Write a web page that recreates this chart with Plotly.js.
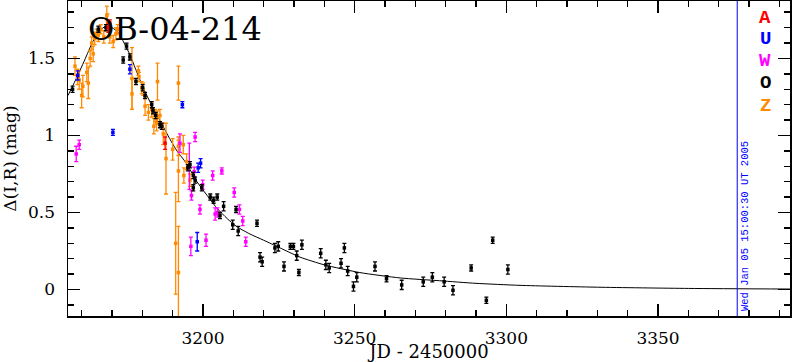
<!DOCTYPE html>
<html>
<head>
<meta charset="utf-8">
<script src="https://cdn.plot.ly/plotly-3.0.1.min.js"></script>
<style>html,body{margin:0;padding:0;background:#fff;}#chart{width:792px;height:362px;}</style>
</head>
<body>
<div id="chart"></div>
<script>
// ---- data (JD - 2450000, Δ mag, error) ----
const aJD  = [3168.8, 3169.3, 3187.5];
const aMag = [1.70, 1.73, 0.95];
const aErr = [0.03, 0.02, 0.04];

const uJD  = [3158.7, 3170.3, 3175.9, 3193.2, 3198.4, 3199.2, 3198.1];
const uMag = [1.39, 1.02, 1.43, 1.20, 0.79, 0.82, 0.31];
const uErr = [0.03, 0.02, 0.03, 0.02, 0.03, 0.03, 0.06];

const wJD  = [3158.2, 3159.2, 3192.4, 3197.4, 3195.5, 3197.1, 3196.2, 3199.9, 3199.0, 3203.2, 3206.2, 3204.0, 3204.8, 3210.3, 3212.0, 3213.1, 3214.1, 3196.0, 3201.0];
const wMag = [0.88, 0.94, 0.95, 0.99, 0.80, 0.765, 0.61, 0.68, 0.52, 0.74, 0.77, 0.49, 0.50, 0.63, 0.52, 0.445, 0.31, 0.28, 0.32];
const wErr = [0.05, 0.03, 0.06, 0.03, 0.15, 0.03, 0.03, 0.03, 0.03, 0.03, 0.02, 0.04, 0.03, 0.03, 0.03, 0.03, 0.03, 0.06, 0.04];

const oJD  = [3157.0, 3165.5, 3168.0, 3173.7, 3174.8, 3175.9, 3177.9, 3180.1, 3180.9, 3183.1, 3183.5, 3184.4, 3185.8, 3186.4,
              3195.0, 3195.7, 3196.8, 3197.4, 3196.8, 3199.6, 3202.4, 3203.5, 3204.7, 3205.6, 3206.8, 3209.8, 3210.9, 3211.6,
              3217.8, 3218.8, 3219.5, 3223.7, 3224.8, 3226.7, 3228.8, 3229.8, 3230.9, 3231.6, 3232.6, 3238.8, 3240.5, 3241.6,
              3245.5, 3246.6, 3247.7, 3249.6, 3250.7, 3256.7, 3260.5, 3265.5, 3272.6, 3275.6, 3279.5, 3282.4, 3288.4, 3293.4,
              3295.5, 3300.5];
const oMag = [1.30, 1.69, 1.70, 1.49, 1.58, 1.51, 1.35, 1.31, 1.26, 1.20, 1.16, 1.13, 1.07, 1.06,
              0.79, 0.81, 0.74, 0.71, 0.66, 0.66, 0.60, 0.58, 0.60, 0.48, 0.54, 0.42, 0.52, 0.38,
              0.43, 0.21, 0.18, 0.27, 0.28, 0.15, 0.28, 0.28, 0.22, 0.11, 0.29, 0.235, 0.16, 0.14,
              0.17, 0.27, 0.12, 0.02, 0.08, 0.15, 0.07, 0.03, 0.05, 0.08, 0.05, -0.005, 0.14, -0.07,
              0.32, 0.13];
const oErr = [0.02, 0.02, 0.02, 0.02, 0.02, 0.02, 0.02, 0.02, 0.02, 0.02, 0.02, 0.02, 0.02, 0.02,
              0.02, 0.02, 0.02, 0.02, 0.02, 0.02, 0.02, 0.02, 0.02, 0.02, 0.03, 0.03, 0.02, 0.03,
              0.02, 0.03, 0.03, 0.03, 0.03, 0.03, 0.02, 0.02, 0.03, 0.02, 0.03, 0.03, 0.03, 0.03,
              0.03, 0.03, 0.03, 0.03, 0.03, 0.03, 0.02, 0.03, 0.03, 0.03, 0.03, 0.03, 0.02, 0.02,
              0.02, 0.03];

const zJD  = [3157.8, 3158.6, 3159.2, 3160.0, 3160.4, 3161.7, 3162.2, 3162.8, 3163.3, 3163.8, 3164.3, 3164.9, 3165.5,
              3166.3, 3167.3, 3168.3, 3168.5, 3169.3, 3170.4, 3171.3, 3171.9, 3176.6, 3176.6, 3178.7, 3178.9, 3179.8,
              3180.3, 3180.9, 3182.0, 3183.1, 3183.8, 3184.2, 3184.7, 3185.0, 3185.0, 3185.8, 3186.9, 3187.8, 3190.0,
              3191.9, 3191.9, 3191.9, 3193.5, 3193.7, 3194.6, 3195.7, 3191.0, 3191.9];
const zMag = [1.45, 1.38, 1.36, 1.26, 1.32, 1.41, 1.34, 1.50, 1.60, 1.53, 1.63, 1.66, 1.65,
              1.69, 1.64, 1.78, 1.74, 1.64, 1.61, 1.66, 1.69, 1.37, 1.27, 1.42, 1.38, 1.31,
              1.30, 1.19, 1.15, 1.17, 1.06, 1.13, 1.08, 1.35, 1.12, 1.13, 1.01, 0.85, 0.91,
              1.34, 0.93, 0.77, 0.94, 0.74, 0.83, 0.71, 0.30, 0.11];
const zErr = [0.06, 0.05, 0.06, 0.08, 0.07, 0.06, 0.10, 0.05, 0.04, 0.05, 0.04, 0.03, 0.04,
              0.03, 0.04, 0.06, 0.05, 0.04, 0.04, 0.04, 0.03, 0.20, 0.10, 0.03, 0.03, 0.04,
              0.04, 0.06, 0.05, 0.05, 0.05, 0.04, 0.05, 0.12, 0.04, 0.04, 0.07, 0.23, 0.07,
              0.11, 0.06, 0.20, 0.06, 0.05, 0.05, 0.04, 0.33, 0.30];

// model curve
const fitJD  = [3155.5, 3158, 3161, 3163.7, 3166, 3168, 3170, 3172, 3174, 3176, 3178, 3180.5, 3183, 3186, 3189,
                3191.4, 3194.5, 3198, 3201, 3204.5, 3208, 3211, 3215.5, 3220, 3225.4, 3232, 3240, 3251.7, 3265,
                3278, 3290, 3304.5, 3330, 3360, 3393.5];
const fitMag = [1.26, 1.36, 1.49, 1.61, 1.68, 1.71, 1.70, 1.67, 1.60, 1.52, 1.42, 1.30, 1.20, 1.09, 0.98,
                0.90, 0.82, 0.70, 0.62, 0.53, 0.46, 0.41, 0.36, 0.32, 0.27, 0.21, 0.16, 0.11, 0.075,
                0.057, 0.04, 0.027, 0.015, 0.007, 0.003];

const legendLabels = ['A', 'U', 'W', 'O', 'Z'];
const legendColors = ['#ff0000', '#0000ff', '#ff00ff', '#000000', '#ff8a00'];

const eventLabel = 'OB-04-214';
const nowJD = 3376.1;
const nowText = 'Wed Jan 05 15:00:30 UT 2005';
const xTitle = 'JD - 2450000';
const yTitle = 'Δ(I,R) (mag)';

// ---- traces ----
function series(x, y, e, color) {
  return {
    x: x, y: y, type: 'scatter', mode: 'markers', showlegend: false, hoverinfo: 'skip',
    marker: {symbol: 'square', size: 3.5, color: color},
    error_y: {type: 'data', array: e, visible: true, color: color, thickness: 1.3, width: 2}
  };
}
const traces = [
  {x: fitJD, y: fitMag, type: 'scatter', mode: 'lines', line: {color: '#000', width: 1, shape: 'spline', smoothing: 0.6}, showlegend: false, hoverinfo: 'skip'},
  series(zJD, zMag, zErr, legendColors[4]),
  series(wJD, wMag, wErr, legendColors[2]),
  series(oJD, oMag, oErr, legendColors[3]),
  series(uJD, uMag, uErr, legendColors[1]),
  series(aJD, aMag, aErr, legendColors[0])
];

const serif = 'DejaVu Serif, Liberation Serif, serif';
const mono = 'Liberation Mono, DejaVu Sans Mono, monospace';

const annotations = [
  {xref: 'paper', yref: 'paper', x: 0.025, y: 0.978, xanchor: 'left', yanchor: 'top', showarrow: false,
   text: eventLabel, font: {family: serif, size: 32, color: '#000'}},
  {xref: 'x', yref: 'paper', x: nowJD, y: 0.01, xanchor: 'left', yanchor: 'bottom', xshift: 0, showarrow: false,
   textangle: -90, text: nowText, font: {family: mono, size: 10.5, color: '#0000ff'}}
];
const legendY = [18, 39, 61, 83, 106];
legendLabels.forEach((lab, i) => {
  annotations.push({xref: 'paper', yref: 'paper', x: (765 - 68) / 722, y: 1 - (legendY[i] - 1) / 315,
    xanchor: 'center', yanchor: 'middle', showarrow: false, text: lab,
    font: {family: mono, size: 19, color: legendColors[i], weight: 'bold'}});
});

const axisCommon = {
  showline: true, linecolor: '#000', linewidth: 1.5, mirror: 'allticks',
  ticks: 'inside', ticklen: 12, tickwidth: 1.5, tickcolor: '#000',
  showgrid: false, zeroline: false,
  tickfont: {family: serif, size: 17, color: '#000'}
};

const layout = {
  width: 792, height: 362,
  margin: {l: 68, r: 2, t: 1, b: 46, pad: 0},
  paper_bgcolor: '#fff', plot_bgcolor: '#fff',
  showlegend: false,
  xaxis: Object.assign({}, axisCommon, {
    range: [3155.5, 3393.5], dtick: 50, tick0: 3200, ticklabelstandoff: 6,
    minor: {dtick: 10, ticks: 'inside', ticklen: 6, tickwidth: 1.5, tickcolor: '#000'},
    title: {text: xTitle, font: {family: serif, size: 18, color: '#000'}, standoff: 8}
  }),
  yaxis: Object.assign({}, axisCommon, {
    range: [-0.172, 1.873], dtick: 0.5, tick0: 0, ticklabelstandoff: 8,
    minor: {dtick: 0.1, ticks: 'inside', ticklen: 6, tickwidth: 1.5, tickcolor: '#000'},
    title: {text: yTitle, font: {family: serif, size: 17, color: '#000'}, standoff: 10}
  }),
  shapes: [
    {type: 'line', xref: 'x', yref: 'paper', x0: nowJD, x1: nowJD, y0: 0, y1: 1, line: {color: '#0000ff', width: 1}}
  ],
  annotations: annotations
};

Plotly.newPlot('chart', traces, layout, {staticPlot: true, displayModeBar: false});
</script>
</body>
</html>
